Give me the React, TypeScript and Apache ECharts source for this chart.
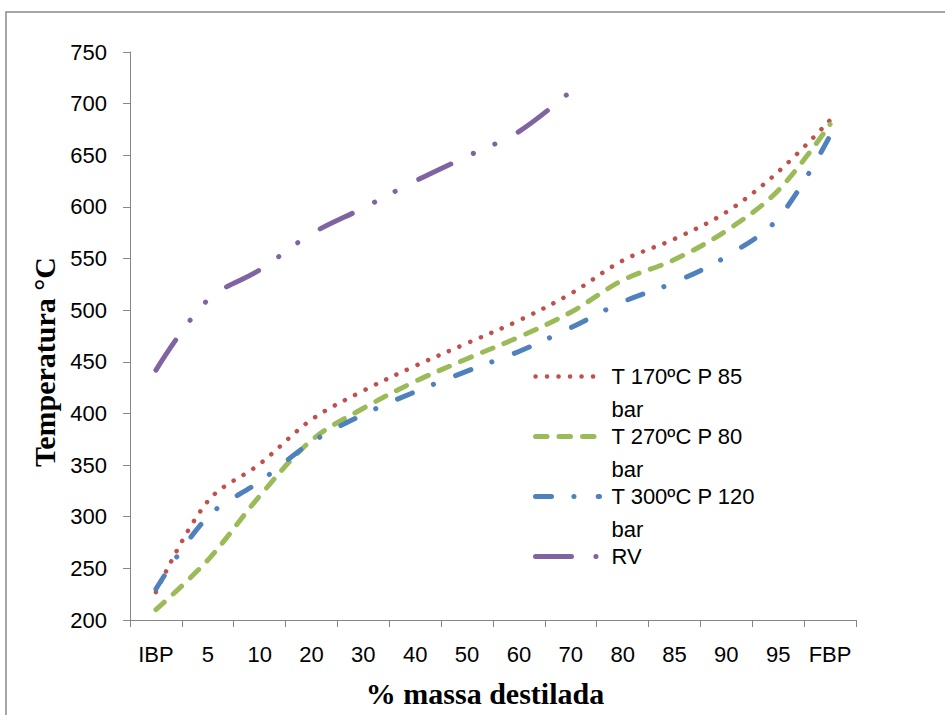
import React, { useEffect, useRef } from 'react';
import * as echarts from 'echarts';

const categories = ['IBP', '5', '10', '20', '30', '40', '50', '60', '70', '80', '85', '90', '95', 'FBP'];
const seriesNames = ['T 170ºC P 85 bar', 'T 270ºC P 80 bar', 'T 300ºC P 120 bar', 'RV'];
const t170 = [227, 315, 351, 394, 422, 446, 468, 490, 516, 548, 569, 595, 634, 684];
const t270 = [210, 258, 320, 374, 405, 431, 453, 474, 498, 529, 549, 577, 616, 680];
const t300 = [230, 300, 334, 372, 399, 421, 441, 460, 483, 508, 527, 552, 589, 669];
const rv = [442, 510, 539, 574, 599, 625, 649, 673, 712, null, null, null, null, null];

const colors = ['#C0504D', '#9BBB59', '#4F81BD', '#8064A2'];
const dashes: number[][] = [
  [0.1, 11.4],
  [11.5, 12],
  [16, 22.4, 0.1, 24.2],
  [36, 24.4, 0.1, 23.5, 0.1, 26.2],
];
const widths = [4.5, 5, 5, 5];

export default function App() {
  const ref = useRef<HTMLDivElement>(null);
  useEffect(() => {
    const chart = echarts.init(ref.current!, null, { renderer: 'svg' });
    const lbl = { fontFamily: 'Liberation Sans', fontSize: 22, color: '#000' };
    const datas = [t170, t270, t300, rv];
    chart.setOption({
      animation: false,
      backgroundColor: '#fff',
      grid: { left: 130, right: 89, top: 52, bottom: 95, containLabel: false },
      xAxis: {
        type: 'category',
        data: categories,
        boundaryGap: true,
        axisLine: { lineStyle: { color: '#868686', width: 1 } },
        axisTick: { show: true, length: 7, inside: false, lineStyle: { color: '#868686' } },
        axisLabel: { ...lbl, margin: 23, interval: 0 },
        splitLine: { show: false },
        name: '% massa destilada',
        nameLocation: 'middle',
        nameGap: 58,
        nameTextStyle: {
          fontFamily: 'Liberation Serif',
          fontWeight: 'bold',
          fontSize: 30,
          color: '#000',
          padding: [0, 16, 0, 0],
        },
      },
      yAxis: {
        type: 'value',
        min: 200,
        max: 750,
        interval: 50,
        splitLine: { show: false },
        axisLine: { show: true, lineStyle: { color: '#868686', width: 1 } },
        axisTick: { show: true, length: 7, inside: false, lineStyle: { color: '#868686' } },
        axisLabel: { ...lbl, margin: 23 },
        name: 'Temperatura °C',
        nameLocation: 'middle',
        nameGap: 71,
        nameRotate: 90,
        nameTextStyle: {
          fontFamily: 'Liberation Serif',
          fontWeight: 'bold',
          fontSize: 30,
          color: '#000',
          padding: [0, 52, 0, 0],
        },
      },
      legend: {
        orient: 'vertical',
        left: 533,
        top: 327,
        padding: 0,
        itemGap: -39,
        itemWidth: 64,
        itemHeight: 14,
        textStyle: { ...lbl, lineHeight: 33, padding: [0, 0, 0, 7] },
        lineStyle: { width: 'inherit' },
        itemStyle: { opacity: 0 },
        formatter: (n: string) => '\n' + (n.indexOf(' bar') >= 0 ? n.replace(' bar', '\nbar') : n + '\n'),
        data: seriesNames,
      },
      graphic: [
        {
          type: 'rect',
          silent: true,
          z: -10,
          shape: { x: 6, y: 12, width: 1000, height: 1000 },
          style: { fill: 'none', stroke: '#898989', lineWidth: 1.5 },
        },
      ],
      series: seriesNames.map((name, i) => ({
        name,
        type: 'line',
        data: datas[i],
        smooth: 0.35,
        symbol: 'none',
        showSymbol: false,
        connectNulls: false,
        itemStyle: { color: colors[i] },
        lineStyle: { color: colors[i], width: widths[i], type: dashes[i], cap: 'round', join: 'round' },
      })),
    });
    return () => chart.dispose();
  }, []);
  return <div ref={ref} style={{ position: 'fixed', left: 0, top: 0, width: 945, height: 715 }} />;
}
